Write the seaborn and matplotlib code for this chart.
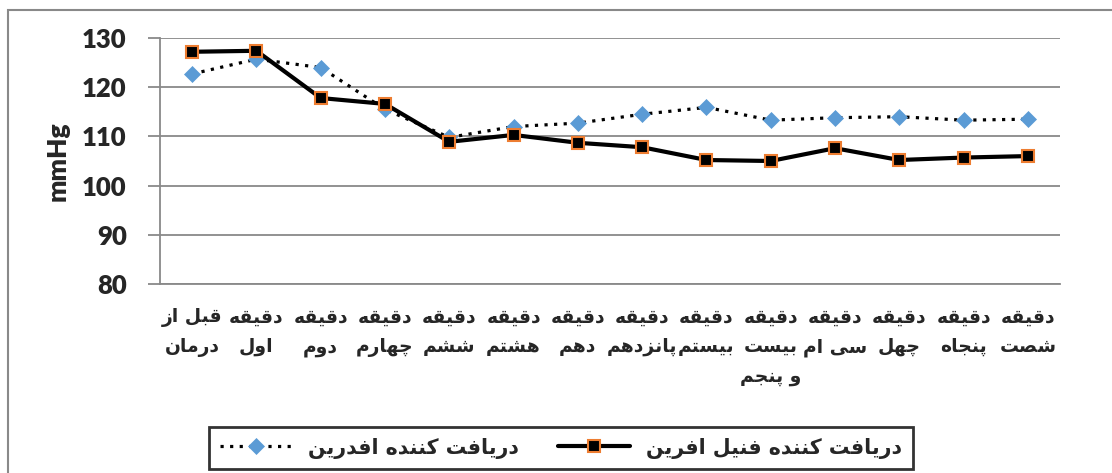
import numpy as np
import pandas as pd
import matplotlib
matplotlib.use("Agg")
import matplotlib.pyplot as plt
import seaborn as sns
from matplotlib.patches import Rectangle

# === Data ===
categories = [
    "قبل از\nدرمان",
    "دقیقه\nاول",
    "دقیقه\nدوم",
    "دقیقه\nچهارم",
    "دقیقه\nششم",
    "دقیقه\nهشتم",
    "دقیقه\nدهم",
    "دقیقه\nپانزدهم",
    "دقیقه\nبیستم",
    "دقیقه\nبیست\nو پنجم",
    "دقیقه\nسی ام",
    "دقیقه\nچهل",
    "دقیقه\nپنجاه",
    "دقیقه\nشصت",
]
ephedrine = [122.7, 125.7, 124.0, 115.5, 109.8, 112.0, 112.7, 114.5,
             115.9, 113.3, 113.8, 114.0, 113.3, 113.5]
phenylephrine = [127.2, 127.4, 117.8, 116.6, 108.9, 110.3, 108.7, 107.8,
                 105.2, 105.0, 107.6, 105.2, 105.7, 106.0]
series_names = ["دریافت کننده افدرین", "دریافت کننده فنیل افرین"]
y_ticks = [80, 90, 100, 110, 120, 130]
y_label = "mmHg"

GRAY = "#898989"

# === Minimal Persian shaping (matplotlib has no complex text layout) ===
# isolated, final, initial, medial  (right-joining letters only have two)
FORMS = {
    "ا": "\uFE8D\uFE8E",
    "ب": "\uFE8F\uFE90\uFE91\uFE92",
    "پ": "\uFB56\uFB57\uFB58\uFB59",
    "ت": "\uFE95\uFE96\uFE97\uFE98",
    "ج": "\uFE9D\uFE9E\uFE9F\uFEA0",
    "چ": "\uFB7A\uFB7B\uFB7C\uFB7D",
    "د": "\uFEA9\uFEAA",
    "ر": "\uFEAD\uFEAE",
    "ز": "\uFEAF\uFEB0",
    "س": "\uFEB1\uFEB2\uFEB3\uFEB4",
    "ش": "\uFEB5\uFEB6\uFEB7\uFEB8",
    "ص": "\uFEB9\uFEBA\uFEBB\uFEBC",
    "ف": "\uFED1\uFED2\uFED3\uFED4",
    "ق": "\uFED5\uFED6\uFED7\uFED8",
    "ک": "\uFB8E\uFB8F\uFB90\uFB91",
    "ل": "\uFEDD\uFEDE\uFEDF\uFEE0",
    "م": "\uFEE1\uFEE2\uFEE3\uFEE4",
    "ن": "\uFEE5\uFEE6\uFEE7\uFEE8",
    "ه": "\uFEE9\uFEEA\uFEEB\uFEEC",
    "و": "\uFEED\uFEEE",
    "ی": "\uFBFC\uFBFD\uFBFE\uFBFF",
}


def shape_fa(text):
    lines = []
    for line in text.split("\n"):
        res = []
        for i, c in enumerate(line):
            f = FORMS.get(c)
            if f is None:
                res.append(c)
                continue
            prev = line[i - 1] if i > 0 else ""
            nxt = line[i + 1] if i + 1 < len(line) else ""
            join_prev = len(FORMS.get(prev, "")) == 4
            join_next = len(f) == 4 and nxt in FORMS
            if join_prev and join_next:
                res.append(f[3])
            elif join_prev:
                res.append(f[1])
            elif join_next:
                res.append(f[2])
            else:
                res.append(f[0])
        lines.append("".join(reversed(res)))
    return "\n".join(lines)


# === Plot ===
sns.set_style("white")
plt.rcParams["font.family"] = ["DejaVu Sans"]

fig = plt.figure(figsize=(11.12, 4.73), dpi=100)
ax = fig.add_axes([160 / 1112, 1 - 284 / 473, 900 / 1112, 246 / 473])

x = np.arange(len(categories))
df = pd.DataFrame({"pos": x, "eph": ephedrine, "phe": phenylephrine})

sns.lineplot(data=df, x="pos", y="eph", ax=ax, color="black",
             linestyle=(0, (1, 2.0)), linewidth=2.3, marker="D",
             markersize=8, markerfacecolor="#5B9BD5",
             markeredgecolor="#5B9BD5", markeredgewidth=0.5,
             label=shape_fa(series_names[0]), zorder=3)
sns.lineplot(data=df, x="pos", y="phe", ax=ax, color="black",
             linestyle="-", linewidth=3, marker="s", markersize=8,
             markerfacecolor="black", markeredgecolor="#ED7D31",
             markeredgewidth=1.5, label=shape_fa(series_names[1]), zorder=4)

ax.set_xlim(-0.5, len(categories) - 0.5)
ax.set_ylim(y_ticks[0], y_ticks[-1])
ax.set_yticks(y_ticks)
ax.set_yticklabels([str(v) for v in y_ticks], fontsize=18.5,
                   fontweight="heavy", family="Lato")
ax.yaxis.grid(True, color=GRAY, linewidth=1.3)
ax.set_axisbelow(True)

ax.set_xticks(x)
ax.set_xticklabels([shape_fa(c) for c in categories], fontsize=13.5,
                   fontweight="bold", linespacing=1.7, va="top")
ax.set_xticks(np.arange(-0.5, len(categories), 1), minor=True)
ax.tick_params(axis="x", which="major", length=0, pad=17)
ax.tick_params(axis="x", which="minor", length=8, color=GRAY, width=1.3,
               direction="out")
ax.tick_params(axis="y", length=9, color=GRAY, width=1.3, direction="out",
               pad=15, left=True)

ax.set_xlabel("")
ax.set_ylabel(y_label, fontsize=19, fontweight="heavy", family="Lato")
ax.yaxis.set_label_coords(-90 / 900, 0.5)

for side in ["top", "right"]:
    ax.spines[side].set_visible(False)
for side in ["left", "bottom"]:
    ax.spines[side].set_color(GRAY)
    ax.spines[side].set_linewidth(1.3)

# legend at the bottom, two columns
ax.get_legend().remove()
handles, labels = ax.get_legend_handles_labels()
leg = fig.legend(handles, labels, ncol=2, loc="center",
                 bbox_to_anchor=(561 / 1112, 1 - 448 / 473),
                 frameon=True, fancybox=False, edgecolor="black",
                 handlelength=3.5, columnspacing=1.9, borderpad=0.5,
                 prop={"size": 14.8, "weight": "bold"})
leg.get_frame().set_linewidth(2)

# outer chart-area border (cropped on the right and bottom)
fig.add_artist(Rectangle((8 / 1112, -0.2), 1.5, 1.2 - 10 / 473,
                         transform=fig.transFigure, fill=False,
                         edgecolor=GRAY, linewidth=1.5))

fig.savefig("out.png", dpi=100)
